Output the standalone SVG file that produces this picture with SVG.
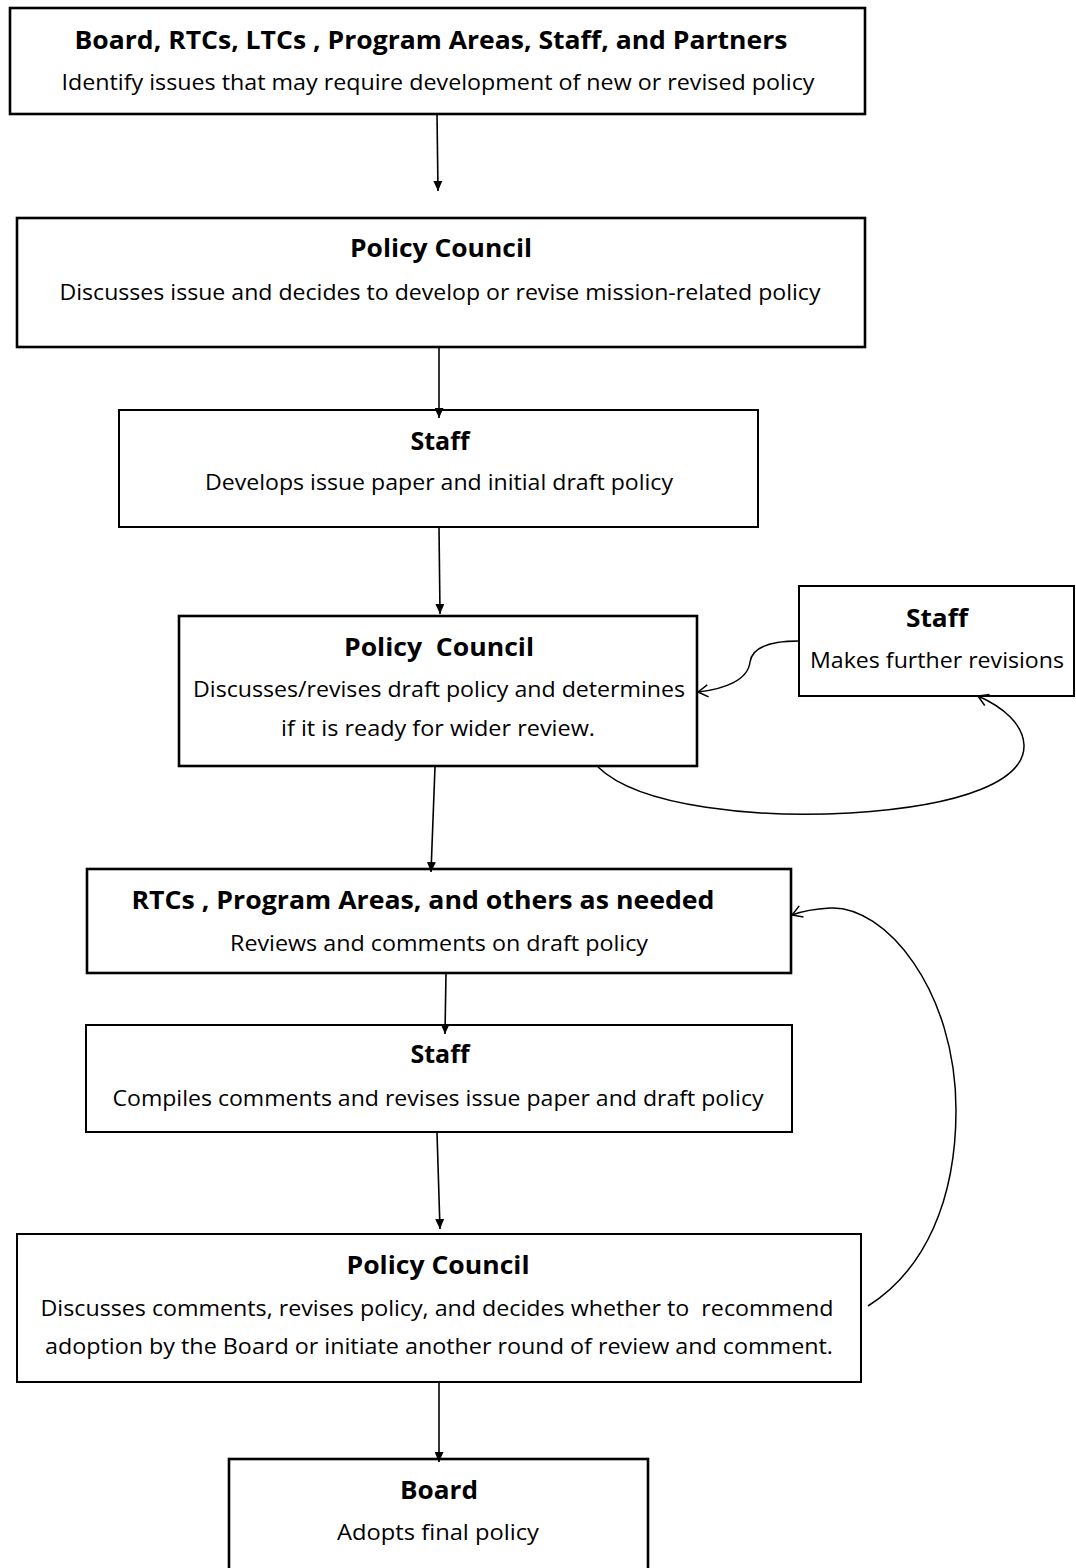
<svg xmlns="http://www.w3.org/2000/svg" width="1076" height="1568" viewBox="0 0 1076 1568">
<style>
.box{fill:#fff;stroke:#000}
.thick{stroke-width:2.6}
.thin{stroke-width:2}
.t{font-family:"Open Sans","Lato","Liberation Sans",sans-serif;font-size:25px;font-weight:bold;text-anchor:middle;fill:#000}
.s{font-family:"Open Sans","Lato","Liberation Sans",sans-serif;font-size:21px;text-anchor:middle;fill:#000}
.ln{fill:none;stroke:#000;stroke-width:1.6}
.cv{fill:none;stroke:#000;stroke-width:1.5}
</style>
<defs>
<marker id="ah" markerUnits="userSpaceOnUse" markerWidth="10" markerHeight="9" refX="10" refY="4.5" orient="auto"><path d="M0,0 L10,4.5 L0,9 z" fill="#000"/></marker>
<marker id="oh" markerUnits="userSpaceOnUse" markerWidth="14" markerHeight="14" refX="11" refY="7" orient="auto"><path d="M1,1 L11,7 L1,13" fill="none" stroke="#000" stroke-width="1.5"/></marker>
</defs>
<g id="n1"><rect class="box thick" x="10" y="8" width="855" height="106"/>
<text class="t" x="431" y="49" textLength="713" lengthAdjust="spacingAndGlyphs">Board, RTCs, LTCs , Program Areas, Staff, and Partners</text>
<text class="s" x="438" y="90" textLength="753" lengthAdjust="spacingAndGlyphs">Identify issues that may require development of new or revised policy</text></g>
<g id="n2"><rect class="box thick" x="17" y="218" width="848" height="129"/>
<text class="t" x="441" y="257" textLength="182" lengthAdjust="spacingAndGlyphs">Policy Council</text>
<text class="s" x="440" y="300" textLength="761" lengthAdjust="spacingAndGlyphs">Discusses issue and decides to develop or revise mission-related policy</text></g>
<g id="n3"><rect class="box thin" x="119" y="410" width="639" height="117"/>
<text class="t" x="440" y="450" textLength="59" lengthAdjust="spacingAndGlyphs">Staff</text>
<text class="s" x="439" y="490" textLength="468" lengthAdjust="spacingAndGlyphs">Develops issue paper and initial draft policy</text></g>
<g id="n4"><rect class="box thick" x="179" y="616" width="518" height="150"/>
<text class="t" x="439" y="656" textLength="190" lengthAdjust="spacingAndGlyphs" xml:space="preserve">Policy  Council</text>
<text class="s" x="439" y="697" textLength="492" lengthAdjust="spacingAndGlyphs">Discusses/revises draft policy and determines</text>
<text class="s" x="438" y="736" textLength="314" lengthAdjust="spacingAndGlyphs">if it is ready for wider review.</text></g>
<g id="n5"><rect class="box thin" x="799" y="586" width="275" height="110"/>
<text class="t" x="937" y="627" textLength="62" lengthAdjust="spacingAndGlyphs">Staff</text>
<text class="s" x="937" y="668" textLength="254" lengthAdjust="spacingAndGlyphs">Makes further revisions</text></g>
<g id="n6"><rect class="box thick" x="87" y="869" width="704" height="104"/>
<text class="t" x="423" y="909" textLength="583" lengthAdjust="spacingAndGlyphs">RTCs , Program Areas, and others as needed</text>
<text class="s" x="439" y="951" textLength="418" lengthAdjust="spacingAndGlyphs">Reviews and comments on draft policy</text></g>
<g id="n7"><rect class="box thin" x="86" y="1025" width="706" height="107"/>
<text class="t" x="440" y="1063" textLength="59" lengthAdjust="spacingAndGlyphs">Staff</text>
<text class="s" x="438" y="1106" textLength="651" lengthAdjust="spacingAndGlyphs">Compiles comments and revises issue paper and draft policy</text></g>
<g id="n8"><rect class="box thin" x="17" y="1234" width="844" height="148"/>
<text class="t" x="438" y="1274" textLength="183" lengthAdjust="spacingAndGlyphs">Policy Council</text>
<text class="s" x="437" y="1316" textLength="793" lengthAdjust="spacingAndGlyphs" xml:space="preserve">Discusses comments, revises policy, and decides whether to  recommend</text>
<text class="s" x="439" y="1354" textLength="788" lengthAdjust="spacingAndGlyphs">adoption by the Board or initiate another round of review and comment.</text></g>
<g id="n9"><rect class="box thick" x="229" y="1459" width="419" height="120"/>
<text class="t" x="439" y="1499" textLength="78" lengthAdjust="spacingAndGlyphs">Board</text>
<text class="s" x="438" y="1540" textLength="202" lengthAdjust="spacingAndGlyphs">Adopts final policy</text></g>
<g id="connectors">
<path class="ln" d="M437,114 L438,191" marker-end="url(#ah)"/>
<path class="ln" d="M439,347 L439,418" marker-end="url(#ah)"/>
<path class="ln" d="M439,527 L440,614" marker-end="url(#ah)"/>
<path class="ln" d="M435,767 L431,872" marker-end="url(#ah)"/>
<path class="ln" d="M446,973 L445,1034" marker-end="url(#ah)"/>
<path class="ln" d="M437,1133 L440,1229" marker-end="url(#ah)"/>
<path class="ln" d="M439,1382 L439,1462" marker-end="url(#ah)"/>
<path class="cv" d="M799,641 C768,641 752,648 750,662 C748,680 725,689 698,692" marker-end="url(#oh)"/>
<path class="cv" d="M598,767 C640,808 760,818 850,813 C965,806 1025,780 1024,745 C1023,724 1003,707 978,696" marker-end="url(#oh)"/>
<path class="cv" d="M868,1306 C925,1270 956,1200 956,1110 C956,990 885,905 830,908 C812,909 800,912 792,915" marker-end="url(#oh)"/>
</g>
</svg>
